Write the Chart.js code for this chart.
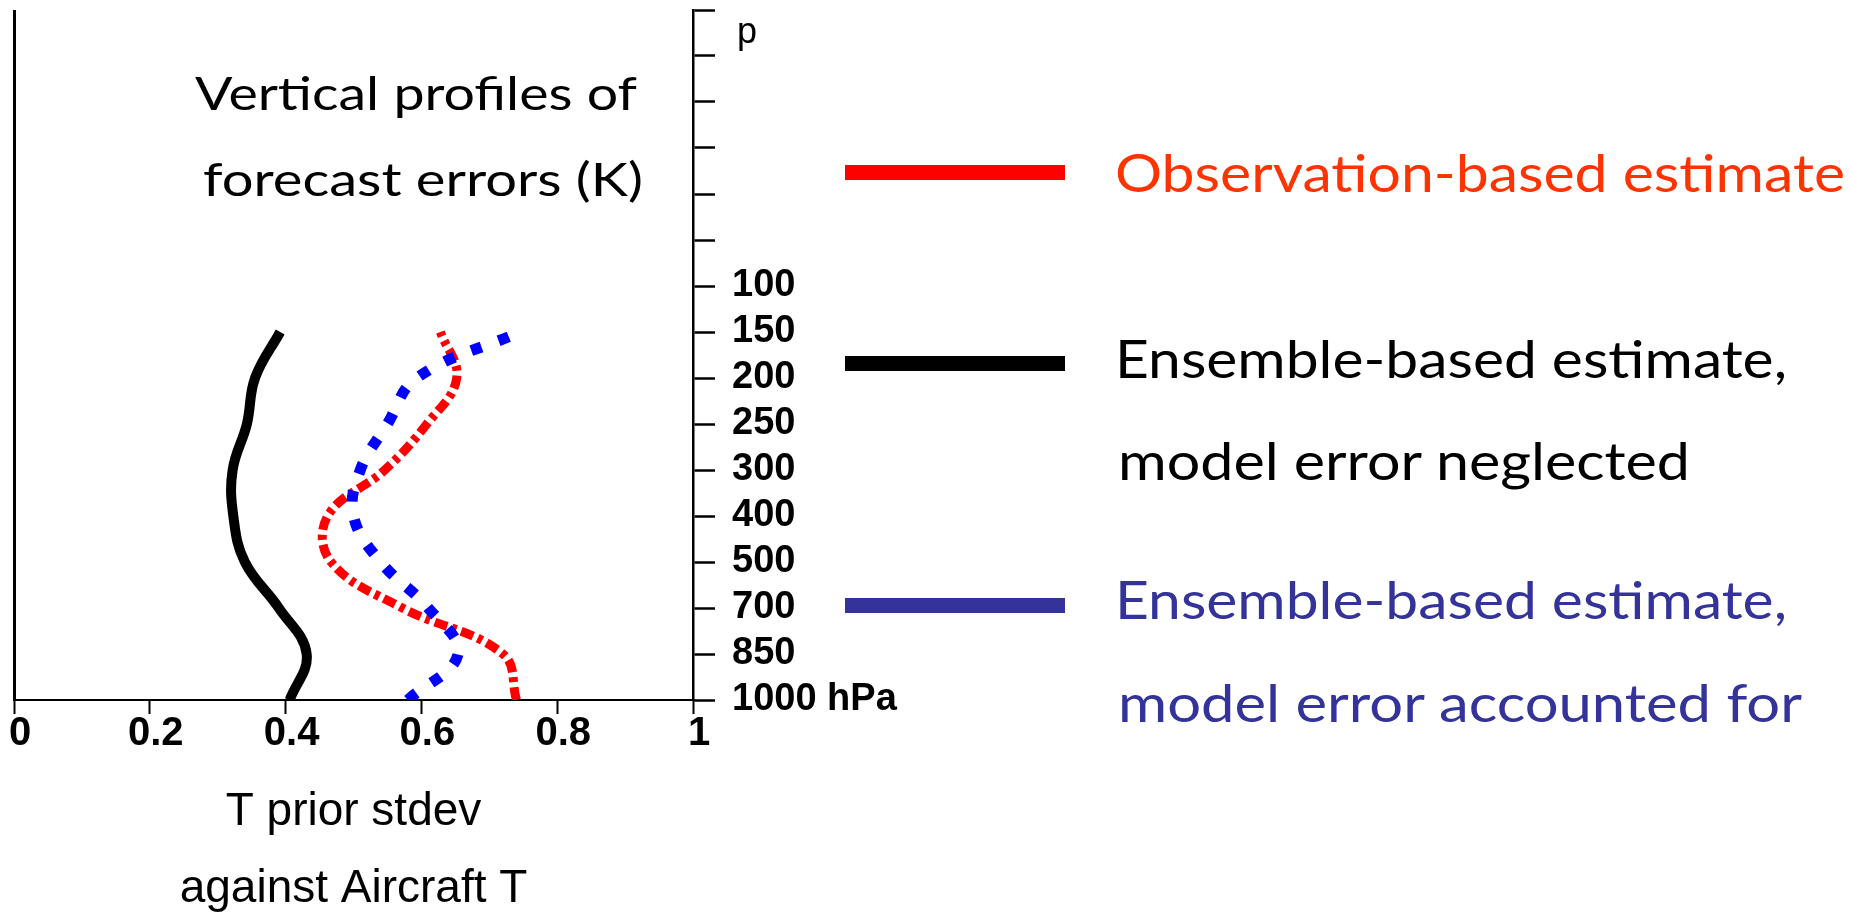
<!DOCTYPE html>
<html>
<head>
<meta charset="utf-8">
<title>Vertical profiles of forecast errors</title>
<script src="https://cdn.jsdelivr.net/npm/chart.js@4"></script>
<style>
  html, body { margin: 0; padding: 0; background: #fff; overflow: hidden; }
  body { width: 1850px; height: 913px; position: relative; }
  .plot { position: absolute; left: 0; top: 0; width: 900px; height: 913px; }
  .txt { position: absolute; white-space: nowrap; transform-origin: 0 0; line-height: 1; }
  .bar { position: absolute; left: 845px; width: 220px; height: 15px; }
</style>
</head>
<body>
<div class="plot"><canvas id="chart"></canvas></div>
<script>
// pressure levels on the right axis, bottom (1000 hPa) to top
const pressureLabels = ["1000 hPa", "850", "700", "500", "400", "300", "250", "200", "150", "100"];
const xTickLabels = ["0", "0.2", "0.4", "0.6", "0.8", "1"];

// T prior stdev (K) at each level from 1000 hPa up to 150 hPa
const obsEstimate   = [0.74, 0.72, 0.572, 0.467, 0.462, 0.546, 0.608, 0.652, 0.628];
const ensNeglected  = [0.406, 0.431, 0.39, 0.34, 0.323, 0.322, 0.343, 0.355, 0.392];
const ensAccounted  = [0.58, 0.654, 0.61, 0.54, 0.50, 0.51, 0.55, 0.593, 0.745];

const seriesNames = [
  ["Observation-based estimate"],
  ["Ensemble-based estimate,", "model error neglected"],
  ["Ensemble-based estimate,", "model error accounted for"]
];
const titleLines = ["Vertical profiles of", "forecast errors (K)"];
const xTitle = ["T prior stdev", "against Aircraft T"];

const toPoints = (vals) => vals.map((v, i) => ({ x: v, y: i }));

const tickFont = { family: "Liberation Sans", weight: "bold", lineHeight: 1 };

new Chart(document.getElementById("chart"), {
  type: "line",
  data: {
    datasets: [
      {
        label: seriesNames[2].join(" "),
        data: toPoints(ensAccounted),
        borderColor: "#0000ff",
        borderWidth: 11,
        borderDash: [11, 18],
        order: 0
      },
      {
        label: seriesNames[0].join(" "),
        data: toPoints(obsEstimate),
        borderColor: "#ff0000",
        borderWidth: 9,
        borderDash: [13, 5, 5, 5],
        order: 1
      },
      {
        label: seriesNames[1].join(" "),
        data: toPoints(ensNeglected),
        borderColor: "#000000",
        borderWidth: 10,
        order: 2
      }
    ]
  },
  options: {
    responsive: true,
    maintainAspectRatio: false,
    animation: false,
    tension: 0.4,
    pointRadius: 0,
    layout: { padding: { left: 14, top: 10, right: 0, bottom: 0 } },
    plugins: { legend: { display: false }, tooltip: { enabled: false } },
    scales: {
      x: {
        type: "linear",
        min: 0,
        max: 1,
        position: "bottom",
        ticks: {
          stepSize: 0.2,
          autoSkip: false,
          maxRotation: 0,
          padding: 0,
          labelOffset: 6,
          color: "#000",
          font: { ...tickFont, size: 40 },
          callback: (value, index) => xTickLabels[index]
        },
        grid: {
          // only the line at 0 shows, as the left frame
          color: (ctx) => (ctx.tick && ctx.tick.value === 0 ? "#000" : "rgba(0,0,0,0)"),
          lineWidth: 3,
          tickColor: "#000",
          tickWidth: 2,
          tickLength: 14
        },
        border: { display: true, color: "#000", width: 2 },
        title: {
          display: true,
          text: xTitle,
          color: "#000",
          font: { family: "Liberation Sans", size: 46, lineHeight: 77 / 46 },
          padding: { top: 0, bottom: -15 }
        },
        afterFit: (scale) => {
          scale.height = 213;
          scale.paddingLeft = 0;
          scale.paddingRight = 0;
        }
      },
      y: {
        type: "linear",
        position: "right",
        min: 0,
        max: 15,
        ticks: {
          stepSize: 1,
          autoSkip: false,
          padding: 17,
          color: "#000",
          font: { ...tickFont, size: 38 },
          callback: (value, index) => (index < pressureLabels.length ? pressureLabels[index] : "")
        },
        grid: {
          drawOnChartArea: false,
          tickColor: "#000",
          tickWidth: 2.5,
          tickLength: 22
        },
        border: { color: "#000", width: 2.5 },
        afterFit: (scale) => {
          scale.width = 207;
          scale.paddingTop = 0;
          scale.paddingBottom = 0;
        }
      }
    }
  }
});

// text placed by its baseline, squeezed horizontally to the given width
function placeText(text, left, baseline, size, color, width, family) {
  const el = document.createElement("div");
  el.className = "txt";
  el.style.font = size + "px " + family;
  el.style.color = color;
  el.textContent = text;
  const mark = document.createElement("span");
  mark.style.cssText = "display:inline-block;width:0;height:0;";
  el.appendChild(mark);
  document.body.appendChild(el);
  const natural = el.getBoundingClientRect().width;
  el.style.left = left + "px";
  el.style.top = (baseline - mark.offsetTop) + "px";
  if (width) el.style.transform = "scaleX(" + (width / natural) + ")";
}

function placeBar(centerY, color) {
  const b = document.createElement("div");
  b.className = "bar";
  b.style.top = (centerY - 7.5) + "px";
  b.style.background = color;
  document.body.appendChild(b);
}

const handFont = "Lato, sans-serif";

placeText("p", 737, 43, 36, "#000", null, "Liberation Sans");
placeText(titleLines[0], 195, 110, 46, "#000", 442, handFont);
placeText(titleLines[1], 203, 196, 46, "#000", 440, handFont);

// legend: bar centre, text colour, then [left, baseline, width] per line
const legendRows = [
  { bar: 172, barColor: "#ff0000", textColor: "#ff3300", lines: [[1115, 192, 730]] },
  { bar: 363, barColor: "#000000", textColor: "#000000", lines: [[1115, 378, 672], [1118, 480, 572]] },
  { bar: 605, barColor: "#333399", textColor: "#333399", lines: [[1115, 619, 672], [1118, 722, 684]] }
];

legendRows.forEach((row, i) => {
  placeBar(row.bar, row.barColor);
  row.lines.forEach((ln, j) => {
    placeText(seriesNames[i][j], ln[0], ln[1], 53, row.textColor, ln[2], handFont);
  });
});
</script>
</body>
</html>
